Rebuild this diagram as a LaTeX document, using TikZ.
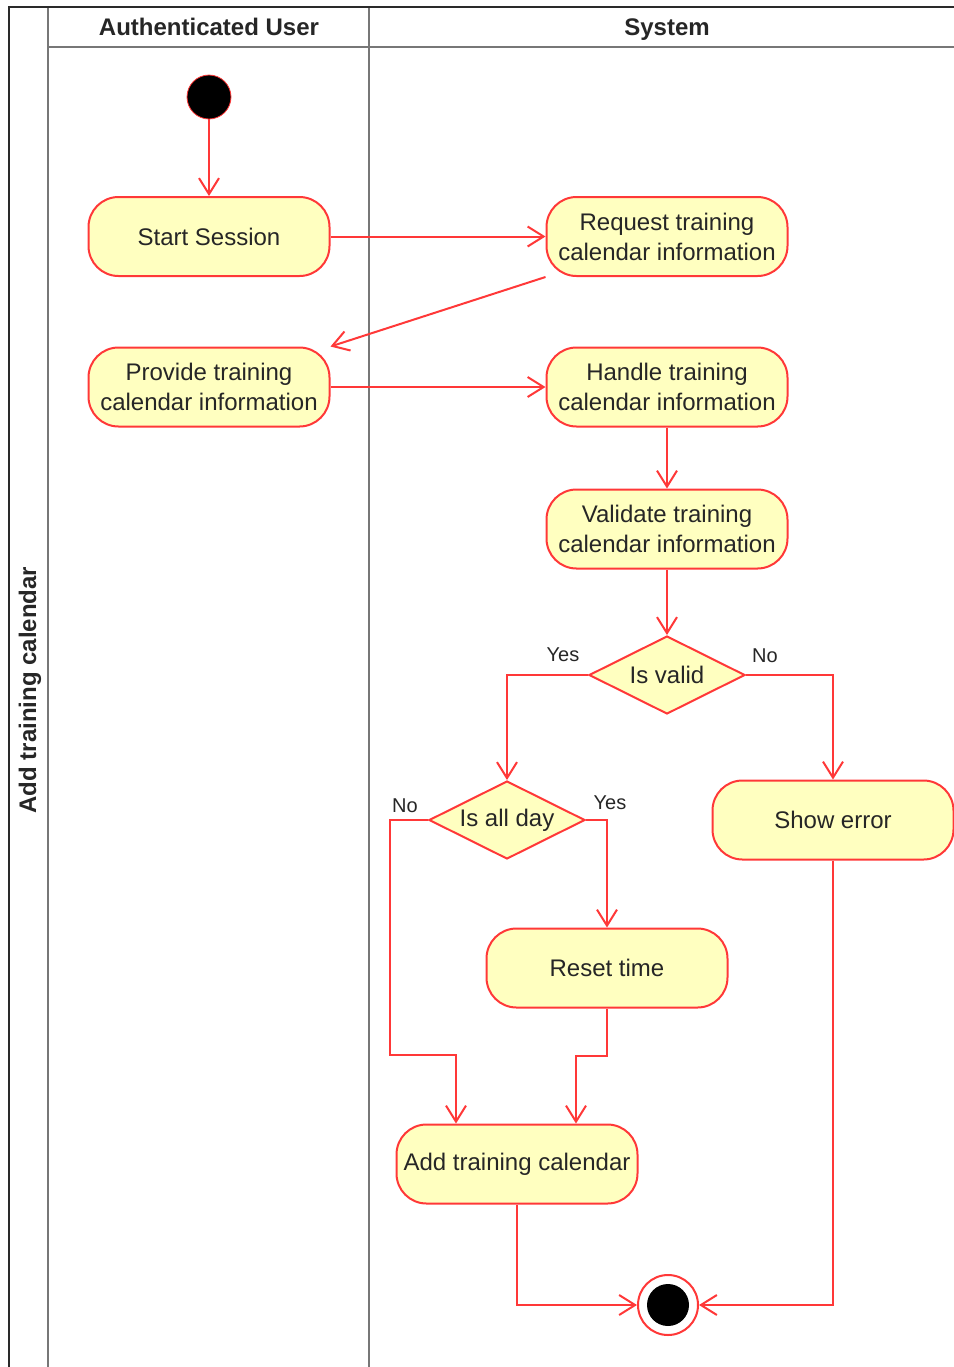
\documentclass[tikz,border=0pt]{standalone}
\usepackage{fontspec}
\setmainfont{Liberation Sans}
\usetikzlibrary{shapes.geometric,arrows.meta,calc}
\definecolor{actred}{HTML}{FF3838}
\definecolor{actfill}{HTML}{FFFFC0}
\definecolor{lanegray}{HTML}{777777}
\definecolor{pooldark}{HTML}{2A2A2A}
\definecolor{txt}{HTML}{262626}
\begin{document}
\begin{tikzpicture}[x=0.5pt,y=-0.5pt,
  action/.style={draw=actred,fill=actfill,line width=1pt,rounded corners=15pt,
    minimum width=120.5pt,minimum height=39.5pt,align=center,inner sep=2pt,
    font=\fontsize{12}{15}\selectfont,text=txt},
  decision/.style={diamond,aspect=2,draw=actred,fill=actfill,line width=1pt,
    minimum width=78pt,minimum height=39pt,inner sep=0pt,
    font=\fontsize{12}{15}\selectfont,text=txt},
  initial/.style={circle,fill=black,draw=actred,line width=0.4pt,minimum size=22pt,inner sep=0pt},
  final/.style={circle,draw=actred,fill=white,line width=1pt,minimum size=30pt,inner sep=0pt,
    path picture={\fill[black] (path picture bounding box.center) circle (10.5pt);}},
  flow/.style={draw=actred,line width=1pt,-{Straight Barb[length=8pt,width=10pt,line width=1pt]}},
  guard/.style={font=\fontsize{10}{12}\selectfont,text=txt,inner sep=0pt},
  header/.style={font=\bfseries\fontsize{12}{14}\selectfont,text=txt,inner sep=0pt,
    text height=0.72em,text depth=0.22em},
  lane/.style={line width=1.2pt,draw=lanegray},
  poolline/.style={line width=1.2pt,draw=pooldark}]
\useasboundingbox (0,0) rectangle (954,1367);

% swimlane frame
\draw[lane] (48,47) -- (954,47);
\draw[lane] (48,7) -- (48,1367);
\draw[lane] (369,7) -- (369,1367);
\draw[poolline] (954,7) -- (9,7) -- (9,1367);

% pool and lane titles
\node[header,rotate=90] (pool) at (31,690) {Add training calendar};
\node[header] (userlane) at (209,30) {Authenticated User};
\node[header] (syslane) at (667,30) {System};

% activity nodes
\node[initial] (init) at (209,97) {};
\node[action] (start) at (209,236.5) {Start Session};
\node[action] (req) at (667,236.5) {Request training\\calendar information};
\node[action] (prov) at (209,387) {Provide training\\calendar information};
\node[action] (handle) at (667,387) {Handle training\\calendar information};
\node[action] (valid) at (667,529) {Validate training\\calendar information};
\node[decision] (isvalid) at (667,675) {Is valid};
\node[decision] (allday) at (507,820) {Is all day};
\node[action] (showerr) at (833,820) {Show error};
\node[action] (reset) at (607,968) {Reset time};
\node[action] (add) at (517,1164) {Add training calendar};
\node[final] (end) at (668,1305) {};

% control flows
\draw[flow] (init) -- (start);
\draw[flow] (start) -- (req);
\draw[flow] (req.south west) -- (prov.north east);
\draw[flow] (prov) -- (handle);
\draw[flow] (handle) -- (valid);
\draw[flow] (valid) -- (isvalid);
\draw[flow] (isvalid.west) -| (allday.north);
\draw[flow] (isvalid.east) -| (showerr.north);
\draw[flow] (allday.west) -| (390,1055) -| ([xshift=-30.5pt]add.north);
\draw[flow] (allday.east) -| (reset.north);
\draw[flow] (reset.south) -- ++(0,47) -| ([xshift=29.5pt]add.north);
\draw[flow] (add.south) |- (end.west);
\draw[flow] (showerr.south) |- (end.east);

% guards
\node[guard] (gyes1) at (563,655) {Yes};
\node[guard] (gno1) at (765,656) {No};
\node[guard] (gno2) at (405,806) {No};
\node[guard] (gyes2) at (610,803) {Yes};
\end{tikzpicture}
\end{document}
